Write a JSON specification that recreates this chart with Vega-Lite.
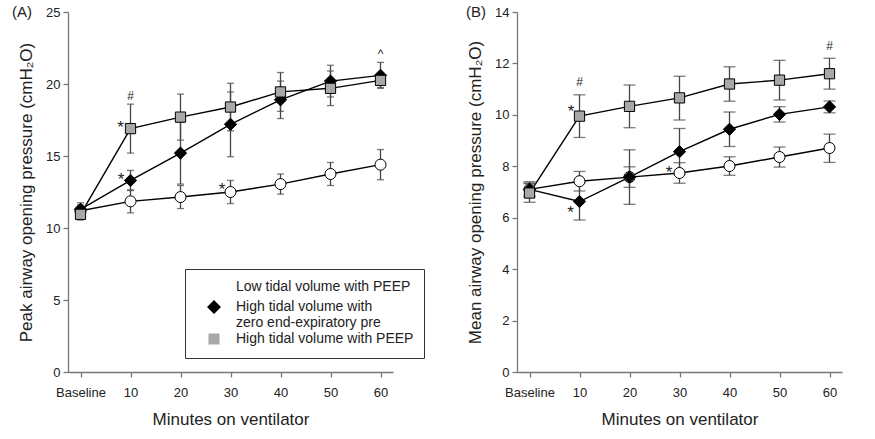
{
  "$schema": "https://vega.github.io/schema/vega-lite/v6.json",
  "padding": {"left": 12, "top": 5, "right": 5, "bottom": 5},
  "spacing": 124,
  "bounds": "flush",
  "datasets": {
    "peak": [
      {"group": "Low tidal volume with PEEP", "minute": 0, "value": 11.2, "lo": 10.8, "hi": 11.6},
      {"group": "Low tidal volume with PEEP", "minute": 10, "value": 11.85, "lo": 11.05, "hi": 12.65},
      {"group": "Low tidal volume with PEEP", "minute": 20, "value": 12.15, "lo": 11.35, "hi": 12.95},
      {"group": "Low tidal volume with PEEP", "minute": 30, "value": 12.5, "lo": 11.7, "hi": 13.3},
      {"group": "Low tidal volume with PEEP", "minute": 40, "value": 13.05, "lo": 12.35, "hi": 13.75},
      {"group": "Low tidal volume with PEEP", "minute": 50, "value": 13.75, "lo": 12.95, "hi": 14.55},
      {"group": "Low tidal volume with PEEP", "minute": 60, "value": 14.4, "lo": 13.35, "hi": 15.45},
      {"group": "High tidal volume with zero end-expiratory pre", "minute": 0, "value": 11.3, "lo": 10.85, "hi": 11.75},
      {"group": "High tidal volume with zero end-expiratory pre", "minute": 10, "value": 13.3, "lo": 12.6, "hi": 14.0},
      {"group": "High tidal volume with zero end-expiratory pre", "minute": 20, "value": 15.2, "lo": 13.05, "hi": 17.35},
      {"group": "High tidal volume with zero end-expiratory pre", "minute": 30, "value": 17.2, "lo": 14.95, "hi": 19.45},
      {"group": "High tidal volume with zero end-expiratory pre", "minute": 40, "value": 18.9, "lo": 17.6, "hi": 20.2},
      {"group": "High tidal volume with zero end-expiratory pre", "minute": 50, "value": 20.2, "lo": 19.1, "hi": 21.3},
      {"group": "High tidal volume with zero end-expiratory pre", "minute": 60, "value": 20.6, "lo": 19.7, "hi": 21.5},
      {"group": "High tidal volume with PEEP", "minute": 0, "value": 10.95, "lo": 10.55, "hi": 11.35},
      {"group": "High tidal volume with PEEP", "minute": 10, "value": 16.9, "lo": 15.2, "hi": 18.6},
      {"group": "High tidal volume with PEEP", "minute": 20, "value": 17.7, "lo": 16.1, "hi": 19.3},
      {"group": "High tidal volume with PEEP", "minute": 30, "value": 18.4, "lo": 16.75, "hi": 20.05},
      {"group": "High tidal volume with PEEP", "minute": 40, "value": 19.45, "lo": 18.1, "hi": 20.8},
      {"group": "High tidal volume with PEEP", "minute": 50, "value": 19.7, "lo": 18.5, "hi": 20.9},
      {"group": "High tidal volume with PEEP", "minute": 60, "value": 20.25, "lo": 19.75, "hi": 20.75}
    ],
    "mean": [
      {"group": "Low tidal volume with PEEP", "minute": 0, "value": 7.1, "lo": 6.8, "hi": 7.4},
      {"group": "Low tidal volume with PEEP", "minute": 10, "value": 7.42, "lo": 7.04, "hi": 7.8},
      {"group": "Low tidal volume with PEEP", "minute": 20, "value": 7.58, "lo": 7.18, "hi": 7.98},
      {"group": "Low tidal volume with PEEP", "minute": 30, "value": 7.74, "lo": 7.34, "hi": 8.14},
      {"group": "Low tidal volume with PEEP", "minute": 40, "value": 8.01, "lo": 7.65, "hi": 8.37},
      {"group": "Low tidal volume with PEEP", "minute": 50, "value": 8.36, "lo": 7.97, "hi": 8.75},
      {"group": "Low tidal volume with PEEP", "minute": 60, "value": 8.71, "lo": 8.15, "hi": 9.25},
      {"group": "High tidal volume with zero end-expiratory pre", "minute": 0, "value": 7.1, "lo": 6.85, "hi": 7.35},
      {"group": "High tidal volume with zero end-expiratory pre", "minute": 10, "value": 6.63, "lo": 5.91, "hi": 7.35},
      {"group": "High tidal volume with zero end-expiratory pre", "minute": 20, "value": 7.58, "lo": 6.52, "hi": 8.64},
      {"group": "High tidal volume with zero end-expiratory pre", "minute": 30, "value": 8.57, "lo": 7.67, "hi": 9.47},
      {"group": "High tidal volume with zero end-expiratory pre", "minute": 40, "value": 9.44, "lo": 8.77, "hi": 10.11},
      {"group": "High tidal volume with zero end-expiratory pre", "minute": 50, "value": 10.02, "lo": 9.72, "hi": 10.32},
      {"group": "High tidal volume with zero end-expiratory pre", "minute": 60, "value": 10.31, "lo": 10.08, "hi": 10.54},
      {"group": "High tidal volume with PEEP", "minute": 0, "value": 6.96, "lo": 6.6, "hi": 7.32},
      {"group": "High tidal volume with PEEP", "minute": 10, "value": 9.95, "lo": 9.12, "hi": 10.78},
      {"group": "High tidal volume with PEEP", "minute": 20, "value": 10.33, "lo": 9.5, "hi": 11.16},
      {"group": "High tidal volume with PEEP", "minute": 30, "value": 10.66, "lo": 9.8, "hi": 11.5},
      {"group": "High tidal volume with PEEP", "minute": 40, "value": 11.2, "lo": 10.53, "hi": 11.87},
      {"group": "High tidal volume with PEEP", "minute": 50, "value": 11.35, "lo": 10.58, "hi": 12.12},
      {"group": "High tidal volume with PEEP", "minute": 60, "value": 11.6, "lo": 11.0, "hi": 12.2}
    ],
    "notesA": [
      {"minute": 8, "value": 17.27, "label": "*"},
      {"minute": 8.1, "value": 13.68, "label": "*"},
      {"minute": 28.3, "value": 13.0, "label": "*"},
      {"minute": 10, "value": 19.28, "label": "#"},
      {"minute": 60, "value": 22.2, "label": "^"},
      {"minute": -2.5, "value": 25, "label": "(A)"}
    ],
    "notesB": [
      {"minute": 8.3, "value": 10.32, "label": "*"},
      {"minute": 8.2, "value": 6.36, "label": "*"},
      {"minute": 27.9, "value": 7.95, "label": "*"},
      {"minute": 10, "value": 11.35, "label": "#"},
      {"minute": 60, "value": 12.75, "label": "#"},
      {"minute": -2.5, "value": 14, "label": "(B)"}
    ]
  },
  "hconcat": [
    {
      "width": 325,
      "height": 360,
      "data": {"name": "peak"},
      "encoding": {
        "x": {"field": "minute", "type": "quantitative", "scale": {"domain": [-2.5, 62.5], "nice": false, "zero": false},
              "axis": {"values": [0, 10, 20, 30, 40, 50, 60], "labelExpr": "datum.value == 0 ? 'Baseline' : datum.label"},
              "title": "Minutes on ventilator"},
        "y": {"field": "value", "type": "quantitative", "scale": {"domain": [0, 25], "nice": false},
              "axis": {"values": [0, 5, 10, 15, 20, 25]},
              "title": "Peak airway opening pressure (cmH₂O)"}
      },
      "layer": [
        {"mark": {"type": "line", "color": "black", "strokeWidth": 1.4},
         "encoding": {"detail": {"field": "group"}, "order": {"field": "minute", "type": "quantitative"}}},
        {"mark": {"type": "rule", "color": "#444", "strokeWidth": 1.3},
         "encoding": {"y": {"field": "lo", "type": "quantitative", "title": "Peak airway opening pressure (cmH₂O)"}, "y2": {"field": "hi"}}},
        {"mark": {"type": "tick", "orient": "horizontal", "size": 7, "thickness": 1.3, "color": "#444"},
         "encoding": {"y": {"field": "lo", "type": "quantitative", "title": "Peak airway opening pressure (cmH₂O)"}}},
        {"mark": {"type": "tick", "orient": "horizontal", "size": 7, "thickness": 1.3, "color": "#444"},
         "encoding": {"y": {"field": "hi", "type": "quantitative", "title": "Peak airway opening pressure (cmH₂O)"}}},
        {"transform": [{"filter": "datum.group == 'Low tidal volume with PEEP'"}],
         "mark": {"type": "point", "shape": "circle", "filled": true, "fill": "white", "stroke": "black", "strokeWidth": 1, "opacity": 1, "size": 121}},
        {"transform": [{"filter": "datum.group == 'High tidal volume with zero end-expiratory pre'"}],
         "mark": {"type": "point", "shape": "diamond", "filled": true, "fill": "black", "stroke": "black", "strokeWidth": 1, "opacity": 1, "size": 150}},
        {"transform": [{"filter": "datum.group == 'High tidal volume with PEEP'"}],
         "mark": {"type": "point", "shape": "square", "filled": true, "fill": "#a8a8a8", "stroke": "black", "strokeWidth": 1, "opacity": 1, "size": 105}},
        {"transform": [{"filter": "false"}],
         "mark": {"type": "point", "filled": true, "stroke": "black", "strokeWidth": 1.3, "opacity": 1},
         "encoding": {
           "stroke": {"value": "black"},
           "shape": {"field": "group", "type": "nominal",
                     "scale": {"domain": ["Low tidal volume with PEEP", "High tidal volume with zero end-expiratory pre", "High tidal volume with PEEP"],
                               "range": ["M-2.36,0L-0.93,0M0.93,0L2.36,0M0.93,0A0.93,0.93,0,1,1,-0.93,0A0.93,0.93,0,1,1,0.93,0Z",
                                         "M-2.36,0L2.36,0M0,-1L1,0L0,1L-1,0Z",
                                         "M-2.36,0L-0.79,0M0.79,0L2.36,0M-0.79,-0.79L0.79,-0.79L0.79,0.79L-0.79,0.79Z"]},
                     "legend": {"orient": "none", "legendX": 117, "legendY": 257, "title": null,
                               "fillColor": "white", "strokeColor": "#333", "padding": 10,
                               "labelFontSize": 14, "labelLimit": 300, "labelOffset": 14, "symbolOffset": 11,
                               "symbolSize": 196, "symbolStrokeWidth": 1.3, "symbolStrokeColor": "black", "rowPadding": 0,
                               "labelExpr": "datum.value == 'High tidal volume with zero end-expiratory pre' ? ['High tidal volume with', 'zero end-expiratory pre'] : datum.label"}},
           "fill": {"field": "group", "type": "nominal",
                    "scale": {"domain": ["Low tidal volume with PEEP", "High tidal volume with zero end-expiratory pre", "High tidal volume with PEEP"], "range": ["white", "black", "#a8a8a8"]},
                    "legend": {"orient": "none", "legendX": 117, "legendY": 257, "title": null,
                               "fillColor": "white", "strokeColor": "#333", "padding": 10,
                               "labelFontSize": 14, "labelLimit": 300, "labelOffset": 14, "symbolOffset": 11,
                               "symbolSize": 196, "symbolStrokeWidth": 1.3, "symbolStrokeColor": "black", "rowPadding": 0,
                               "labelExpr": "datum.value == 'High tidal volume with zero end-expiratory pre' ? ['High tidal volume with', 'zero end-expiratory pre'] : datum.label"}}
         }},
        {"data": {"name": "notesA"},
         "transform": [{"filter": "datum.label == '*'"}],
         "mark": {"type": "text", "fontSize": 17, "dy": 5, "baseline": "middle", "color": "#222"},
         "encoding": {"text": {"field": "label"}}},
        {"data": {"name": "notesA"},
         "transform": [{"filter": "datum.label == '#' || datum.label == '^'"}],
         "mark": {"type": "text", "fontSize": 12, "dy": 2, "baseline": "middle", "color": "#222"},
         "encoding": {"text": {"field": "label"}}},
        {"data": {"name": "notesA"},
         "transform": [{"filter": "datum.label == '(A)'"}],
         "mark": {"type": "text", "fontSize": 15, "align": "right", "baseline": "middle", "dx": -36, "color": "#222"},
         "encoding": {"text": {"field": "label"}}}
      ]
    },
    {
      "width": 325,
      "height": 360,
      "data": {"name": "mean"},
      "encoding": {
        "x": {"field": "minute", "type": "quantitative", "scale": {"domain": [-2.5, 62.5], "nice": false, "zero": false},
              "axis": {"values": [0, 10, 20, 30, 40, 50, 60], "labelExpr": "datum.value == 0 ? 'Baseline' : datum.label"},
              "title": "Minutes on ventilator"},
        "y": {"field": "value", "type": "quantitative", "scale": {"domain": [0, 14], "nice": false},
              "axis": {"values": [0, 2, 4, 6, 8, 10, 12, 14]},
              "title": "Mean airway opening pressure (cmH₂O)"}
      },
      "layer": [
        {"mark": {"type": "line", "color": "black", "strokeWidth": 1.4},
         "encoding": {"detail": {"field": "group"}, "order": {"field": "minute", "type": "quantitative"}}},
        {"mark": {"type": "rule", "color": "#444", "strokeWidth": 1.3},
         "encoding": {"y": {"field": "lo", "type": "quantitative", "title": "Mean airway opening pressure (cmH₂O)"}, "y2": {"field": "hi"}}},
        {"mark": {"type": "tick", "orient": "horizontal", "size": 12, "thickness": 1.3, "color": "#444"},
         "encoding": {"y": {"field": "lo", "type": "quantitative", "title": "Mean airway opening pressure (cmH₂O)"}}},
        {"mark": {"type": "tick", "orient": "horizontal", "size": 12, "thickness": 1.3, "color": "#444"},
         "encoding": {"y": {"field": "hi", "type": "quantitative", "title": "Mean airway opening pressure (cmH₂O)"}}},
        {"transform": [{"filter": "datum.group == 'Low tidal volume with PEEP'"}],
         "mark": {"type": "point", "shape": "circle", "filled": true, "fill": "white", "stroke": "black", "strokeWidth": 1, "opacity": 1, "size": 121}},
        {"transform": [{"filter": "datum.group == 'High tidal volume with zero end-expiratory pre'"}],
         "mark": {"type": "point", "shape": "diamond", "filled": true, "fill": "black", "stroke": "black", "strokeWidth": 1, "opacity": 1, "size": 150}},
        {"transform": [{"filter": "datum.group == 'High tidal volume with PEEP'"}],
         "mark": {"type": "point", "shape": "square", "filled": true, "fill": "#a8a8a8", "stroke": "black", "strokeWidth": 1, "opacity": 1, "size": 105}},
        {"data": {"name": "notesB"},
         "transform": [{"filter": "datum.label == '*'"}],
         "mark": {"type": "text", "fontSize": 17, "dy": 5, "baseline": "middle", "color": "#222"},
         "encoding": {"text": {"field": "label"}}},
        {"data": {"name": "notesB"},
         "transform": [{"filter": "datum.label == '#'"}],
         "mark": {"type": "text", "fontSize": 12, "dy": 2, "baseline": "middle", "color": "#222"},
         "encoding": {"text": {"field": "label"}}},
        {"data": {"name": "notesB"},
         "transform": [{"filter": "datum.label == '(B)'"}],
         "mark": {"type": "text", "fontSize": 15, "align": "right", "baseline": "middle", "dx": -31, "color": "#222"},
         "encoding": {"text": {"field": "label"}}}
      ]
    }
  ],
  "config": {
    "view": {"stroke": null},
    "font": "Liberation Sans",
    "axis": {"grid": false, "domainColor": "#777", "tickColor": "#777", "labelColor": "#222", "titleColor": "#222",
             "labelFontSize": 13, "titleFontSize": 17, "titleFontWeight": "normal", "tickSize": 5,
             "labelFont": "Liberation Sans", "titleFont": "Liberation Sans", "domainWidth": 1.3, "tickWidth": 1.3},
    "axisY": {"labelPadding": 3, "titlePadding": 10},
    "axisX": {"labelPadding": 9, "titlePadding": 12, "labelFlush": false},
    "legend": {"labelFont": "Liberation Sans", "labelColor": "#222"}
  }
}
